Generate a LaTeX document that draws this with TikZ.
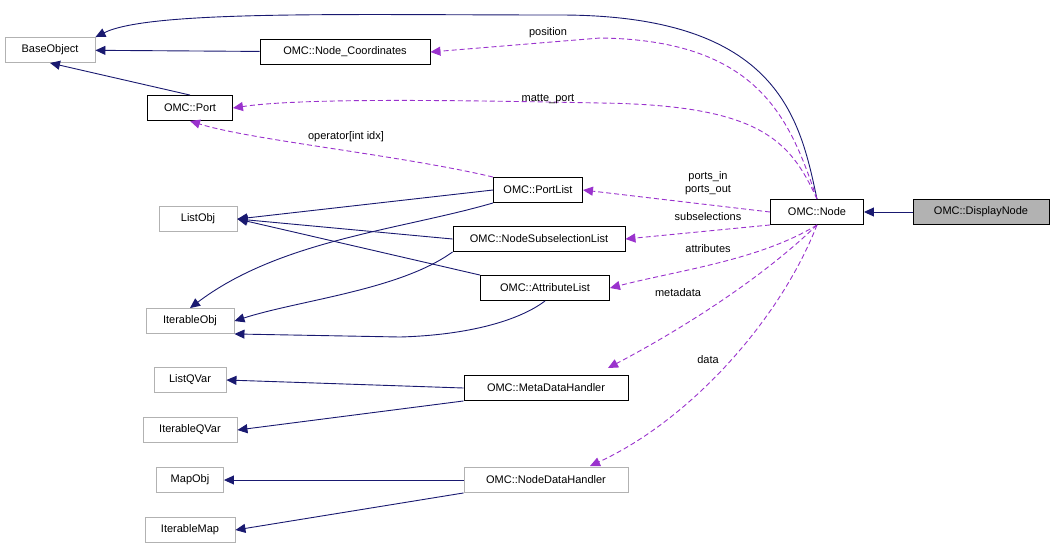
\documentclass[tikz,border=0pt]{standalone}
\usepackage{fontspec}
\setmainfont{Liberation Sans}
\usetikzlibrary{arrows.meta}
\definecolor{inhcol}{RGB}{25,25,112}
\definecolor{usecol}{RGB}{154,50,205}
\tikzset{
  cls/.style={draw=black, fill=white, line width=0.9pt, minimum height=25pt, inner xsep=5pt, font=\fontsize{11}{13}\selectfont},
  ext/.style={cls, draw=gray!60},
  cur/.style={cls, fill=gray!60},
  inh/.style={draw=inhcol, line width=0.9pt, -{Triangle[length=10pt,width=9pt]}},
  use/.style={draw=usecol, line width=0.9pt, dash pattern=on 5pt off 3pt, -{Triangle[length=10pt,width=9pt]}},
  lbl/.style={font=\fontsize{11}{13}\selectfont, inner sep=1pt}
}
\begin{document}
\begin{tikzpicture}[x=1pt,y=-1pt]
\useasboundingbox (0,0) rectangle (1054,550);
% classes
\node[ext, minimum width=90pt] (base) at (50,50) {BaseObject};
\node[cls, minimum width=170pt] (coord) at (345,52) {OMC::Node\_Coordinates};
\node[cls, minimum width=85pt] (port) at (190,108) {OMC::Port};
\node[cls, minimum width=89pt] (plist) at (538,190) {OMC::PortList};
\node[ext, minimum width=78pt] (listobj) at (198,219) {ListObj};
\node[cls, minimum width=172pt] (nsub) at (539,239) {OMC::NodeSubselectionList};
\node[cls, minimum width=93pt] (node) at (817,212) {OMC::Node};
\node[cur, minimum width=136pt] (disp) at (981,212) {OMC::DisplayNode};
\node[cls, minimum width=129pt] (alist) at (545,288) {OMC::AttributeList};
\node[ext, minimum width=88pt] (iterobj) at (190,321) {IterableObj};
\node[ext, minimum width=72pt] (lqvar) at (190,380) {ListQVar};
\node[cls, minimum width=164pt] (meta) at (546,388) {OMC::MetaDataHandler};
\node[ext, minimum width=94pt] (iqvar) at (190,430) {IterableQVar};
\node[ext, minimum width=67pt] (mapobj) at (190,480) {MapObj};
\node[ext, minimum width=164pt] (ndata) at (546,480) {OMC::NodeDataHandler};
\node[ext, minimum width=90pt] (imap) at (190,530) {IterableMap};
% inheritance
\draw[inh] (disp) -- (node);
\draw[inh] (node.north) .. controls (800,120) and (780,15) .. (560,15) .. controls (350,15) and (150,10) .. (base.north east);
\draw[inh] (coord) -- (base);
\draw[inh] (port.north) -- (base.south);
\draw[inh] (plist.west) -- (listobj.east);
\draw[inh] (plist.south west) .. controls (400,230) and (280,240) .. (iterobj.north);
\draw[inh] (nsub.west) -- (listobj.east);
\draw[inh] (nsub.south west) .. controls (400,290) and (300,300) .. (iterobj.east);
\draw[inh] (alist.north west) -- (listobj.east);
\draw[inh] (alist.south) .. controls (520,320) and (470,335) .. (400,337) -- (iterobj.south east);
\draw[inh] (meta.west) -- (lqvar.east);
\draw[inh] (meta.south west) -- (iqvar.east);
\draw[inh] (ndata.west) -- (mapobj.east);
\draw[inh] (ndata.south west) -- (imap.east);
% members
\draw[use] (node.north) .. controls (790,120) and (760,40) .. (600,38) -- (coord.east);
\draw[use] (node.north) .. controls (790,140) and (760,105) .. (600,103) .. controls (450,100) and (300,98) .. (port.east);
\draw[use] (plist.north west) .. controls (400,155) and (250,140) .. (port.south);
\draw[use] (node.west) -- (plist.east);
\draw[use] (node.south west) -- (nsub.east);
\draw[use] (node.south) .. controls (760,260) and (680,270) .. (alist.east);
\draw[use] (node.south) .. controls (760,280) and (680,330) .. (608,368);
\draw[use] (node.south) .. controls (780,320) and (690,420) .. (590,466);
% labels
\node[lbl] (lpos) at (548,33) {position};
\node[lbl] (lmat) at (548,99) {matte\_port};
\node[lbl] (lop) at (346,137) {operator[int idx]};
\node[lbl, align=center] (lports) at (708,183) {ports\_in\\ports\_out};
\node[lbl] (lsub) at (708,217) {subselections};
\node[lbl] (latt) at (708,249) {attributes};
\node[lbl] (lmeta) at (678,293) {metadata};
\node[lbl] (ldata) at (708,360) {data};
\end{tikzpicture}
\end{document}
